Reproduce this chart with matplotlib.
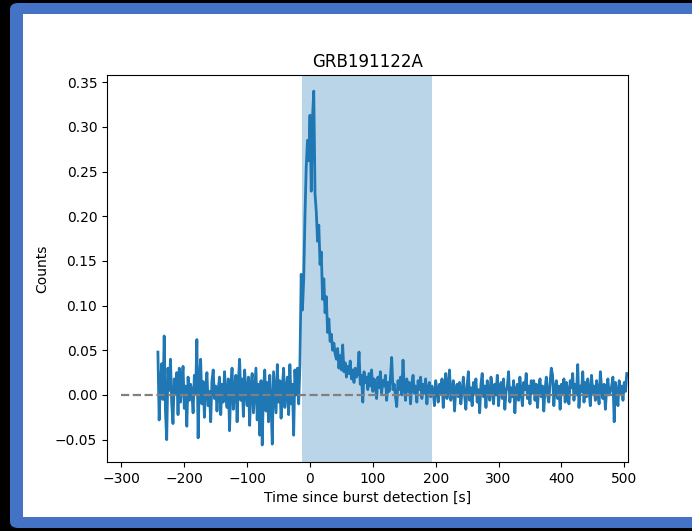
import numpy as np
import matplotlib
matplotlib.use("Agg")
import matplotlib.pyplot as plt
from matplotlib.patches import FancyBboxPatch, Rectangle

# ---------------- data ----------------
title = "GRB191122A"
xlabel = "Time since burst detection [s]"
ylabel = "Counts"

t_start = -242.0   # first bin centre [s]
bin_width = 2.0    # [s]

pre_burst = [
    0.048, -0.028, 0.012, 0.035, -0.005, 0.066, -0.018, -0.050, 0.030, 0.005,
    0.040, -0.010, -0.032, 0.018, 0.002, 0.025, -0.022, 0.030, -0.008, 0.014,
    0.032, -0.015, 0.010, -0.035, 0.020, -0.006, 0.012, 0.004, -0.020, 0.022,
    0.002, 0.062, -0.048, 0.018, 0.040, -0.010, 0.015, -0.025, 0.008, 0.025,
    -0.012, 0.004, -0.030, 0.016, 0.028, -0.004, 0.010, -0.018, 0.006, 0.020,
    -0.022, 0.012, -0.008, 0.026, 0.002, -0.014, 0.018, -0.040, 0.010, 0.030,
    -0.016, 0.006, 0.022, -0.030, 0.014, 0.040, -0.006, 0.018, -0.024, 0.028,
    0.004, -0.012, 0.020, -0.034, 0.010, 0.024, -0.020, 0.006, 0.030, -0.028,
    0.012, -0.045, 0.016, -0.056, 0.008, 0.028, -0.018, 0.014, -0.030, 0.022,
    -0.010, -0.055, 0.026, 0.002, -0.020, 0.034, -0.008, 0.016, -0.026, 0.008,
    0.030, -0.014, 0.004, 0.020, -0.022, 0.034, -0.010, 0.012, -0.045, 0.028,
    0.000, 0.030, -0.010, 0.034,
]

burst = [
    0.135, 0.095, 0.130, 0.200, 0.255, 0.285, 0.262, 0.313, 0.228, 0.310,
    0.340, 0.225, 0.205, 0.172, 0.190, 0.146, 0.160, 0.107, 0.130, 0.092,
    0.110, 0.070, 0.085, 0.060, 0.068, 0.050, 0.058, 0.046,
]

decay_tail = [
    0.040, 0.052, 0.030, 0.044, 0.028, 0.056, 0.026, 0.036, 0.020, 0.032,
    0.024, 0.038, 0.018, 0.028, 0.014, 0.030, 0.020, 0.024, 0.048, 0.012,
    0.022, -0.008, 0.026, 0.014, 0.020, 0.006, 0.024, 0.010, 0.028, 0.004,
    0.018, 0.012, -0.004, 0.020, 0.008, 0.026, 0.002, 0.016, 0.010, 0.022,
    -0.006, 0.014, 0.004, 0.020, 0.042, 0.006, 0.012, -0.002, -0.013, 0.016,
    0.006, 0.020, 0.000, 0.039, 0.008, -0.006, 0.018, 0.004, 0.014, -0.010,
    0.012, 0.022, 0.002, 0.010, -0.008, 0.016, 0.006, 0.020, -0.004, 0.012,
    0.002, 0.018, -0.010, 0.008, 0.014, -0.002, 0.010,
]

post_burst = [
    0.004, -0.012, 0.016, 0.006, -0.008, 0.012, 0.002, 0.018, -0.014, 0.008,
    0.024, -0.004, 0.010, 0.028, -0.006, 0.004, 0.016, -0.018, 0.006, 0.012,
    -0.002, 0.014, -0.010, 0.004, 0.020, 0.000, -0.016, 0.010, 0.026, -0.006,
    0.008, -0.012, 0.014, 0.002, 0.018, -0.008, 0.006, -0.020, 0.012, 0.024,
    -0.002, 0.010, -0.014, 0.016, 0.004, -0.006, 0.020, 0.008, -0.010, 0.012,
    0.000, 0.022, -0.012, 0.006, 0.014, -0.004, 0.018, -0.016, 0.004, 0.010,
    0.026, -0.008, 0.008, -0.002, 0.016, -0.020, 0.006, 0.012, -0.006, 0.020,
    0.002, -0.012, 0.014, 0.006, 0.024, -0.004, 0.010, -0.010, 0.016, 0.002,
    0.016, -0.006, 0.012, -0.014, 0.008, 0.018, -0.002, 0.010, -0.018, 0.006,
    0.020, 0.000, -0.008, 0.014, 0.030, 0.022, -0.012, 0.008, 0.016, -0.004,
    0.010, -0.016, 0.012, 0.002, 0.018, -0.008, 0.014, 0.004, -0.010, 0.016,
    0.008, 0.024, -0.006, 0.012, 0.000, 0.034, -0.014, 0.010, 0.004, 0.026,
    -0.008, 0.014, -0.002, 0.018, 0.006, -0.012, 0.022, 0.002, 0.010, -0.006,
    0.016, 0.004, -0.010, 0.026, 0.008, -0.004, 0.012, -0.016, 0.006, 0.018,
    0.000, 0.004, 0.010, 0.020, -0.030, 0.014, 0.004, -0.012, 0.016, 0.002,
    0.010, -0.006, 0.014, 0.004, 0.024,
]

span_start, span_end = -13.0, 194.0     # shaded interval [s]
baseline_range = [-300, 500]           # dashed zero line extent [s]
xlim = (-323, 506)
ylim = (-0.075, 0.358)

# --------------- plotting ---------------
counts = np.array(pre_burst + burst + decay_tail + post_burst)
time = t_start + bin_width * np.arange(len(counts))

W, H = 692, 531
fig = plt.figure(figsize=(W / 100, H / 100), dpi=100, facecolor="black")

# screenshot frame: blue rounded border + white page
blue = FancyBboxPatch((10 / W, 3 / H), (W + 40 - 10) / W, (528 - 3) / H,
                      boxstyle="round,pad=0,rounding_size=0.012",
                      transform=fig.transFigure, facecolor="#4472C4",
                      edgecolor="none", zorder=-10)
white = Rectangle((23 / W, (H - 517) / H), (W - 23) / W, (517 - 14) / H,
                  transform=fig.transFigure, facecolor="white",
                  edgecolor="none", zorder=-9)
fig.patches.extend([blue, white])

ax = fig.add_axes([107 / W, (H - 462) / H, (628 - 107) / W, (462 - 75) / H])
ax.axvspan(span_start, span_end, alpha=0.3, color="C0", lw=0)
ax.plot(time, counts, color="C0", lw=2.0)
ax.plot(baseline_range, [0, 0], "--", color="gray", lw=1.6)

ax.set_xlim(*xlim)
ax.set_ylim(*ylim)
ax.set_title(title)
ax.set_xlabel(xlabel)
ax.set_ylabel(ylabel)

fig.savefig("out.png", dpi=100, facecolor=fig.get_facecolor())
